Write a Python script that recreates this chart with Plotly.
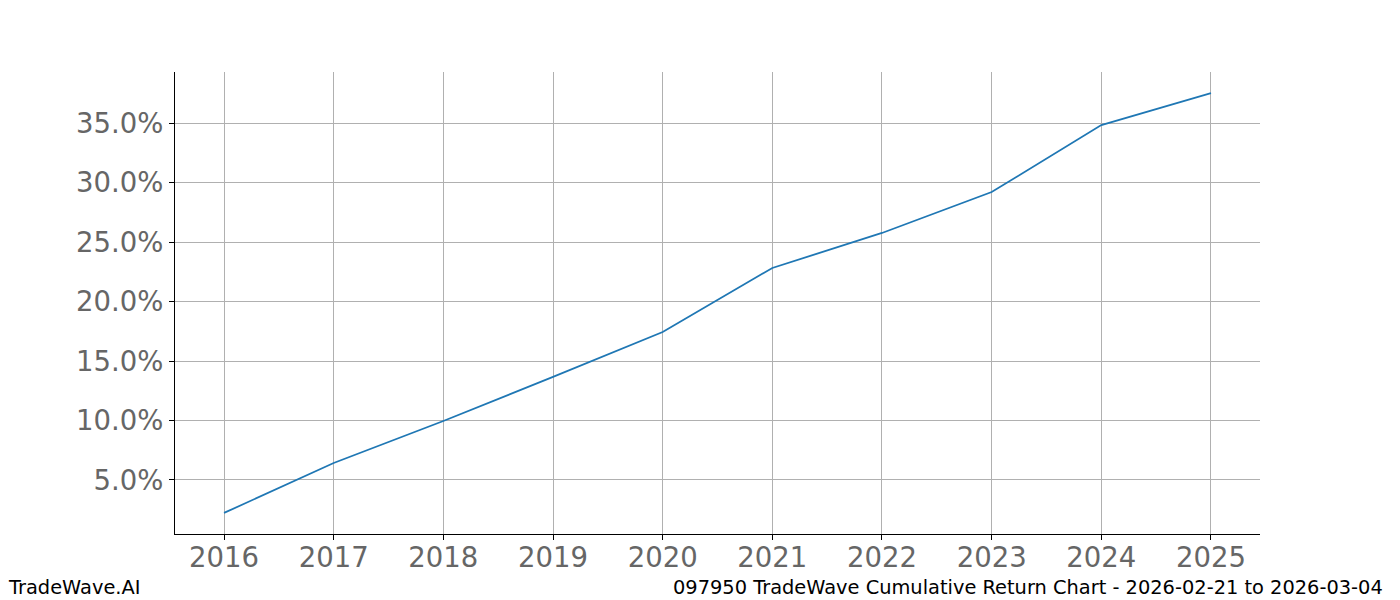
import plotly.graph_objects as go

years = [2016, 2017, 2018, 2019, 2020, 2021, 2022, 2023, 2024, 2025]
returns = [2.23, 6.43, 9.96, 13.66, 17.44, 22.82, 25.76, 29.2, 34.83, 37.52]
y_ticks = [5, 10, 15, 20, 25, 30, 35]
footer_left = "TradeWave.AI"
footer_right = "097950 TradeWave Cumulative Return Chart - 2026-02-21 to 2026-03-04"

W, H = 1400, 600
L, R, T, B = 175, 140, 72, 66
pw, ph = W - L - R, H - T - B

fig = go.Figure()
fig.add_trace(go.Scatter(x=years, y=returns, mode="lines",
                         line=dict(color="#1f77b4", width=1.8), hoverinfo="x+y"))

axis_font = dict(family="DejaVu Sans", size=27.5, color="#666666")
fig.update_layout(
    width=W, height=H,
    margin=dict(l=L, r=R, t=T, b=B, pad=0),
    paper_bgcolor="white", plot_bgcolor="white",
    showlegend=False,
    font=dict(family="DejaVu Sans"),
    xaxis=dict(range=[2015.553, 2025.447], tickvals=years, ticktext=[str(y) for y in years],
               showgrid=True, gridcolor="#b0b0b0", gridwidth=0.8,
               showline=True, linecolor="black", linewidth=1.2,
               ticks="outside", ticklen=5, tickcolor="black", tickwidth=1,
               ticklabelstandoff=-6,
               tickfont=axis_font, zeroline=False, fixedrange=True),
    yaxis=dict(range=[0.46, 39.29], tickvals=y_ticks, ticktext=[f"{v:.1f}%" for v in y_ticks],
               showgrid=True, gridcolor="#b0b0b0", gridwidth=0.8,
               showline=True, linecolor="black", linewidth=1.2,
               ticks="outside", ticklen=5, tickcolor="black", tickwidth=1,
               tickfont=axis_font, zeroline=False, fixedrange=True),
    annotations=[
        dict(text=footer_left, xref="paper", yref="paper",
             x=(6 - L) / pw, y=(T + ph - 587) / ph, xanchor="left", yanchor="middle",
             showarrow=False, font=dict(family="DejaVu Sans", size=19.4, color="black")),
        dict(text=footer_right, xref="paper", yref="paper",
             x=(1385 - L) / pw, y=(T + ph - 587) / ph, xanchor="right", yanchor="middle",
             showarrow=False, font=dict(family="DejaVu Sans", size=19.4, color="black")),
    ],
)

fig.write_html("out.html", config={"displayModeBar": False})

with open("out.html", "r", encoding="utf-8") as f:
    html = f.read()
html = html.replace("<body>", '<body style="margin:0;padding:0;overflow:hidden">', 1)
with open("out.html", "w", encoding="utf-8") as f:
    f.write(html)
